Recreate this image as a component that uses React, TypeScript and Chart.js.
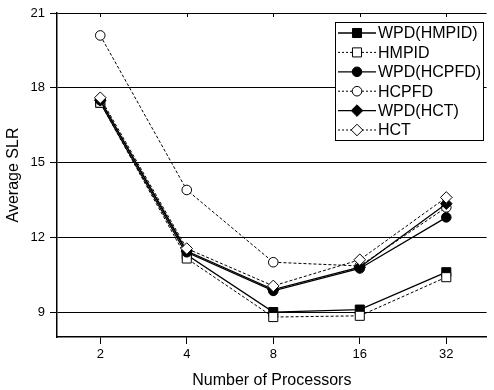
import React, { useEffect, useRef } from "react";
import { Chart, registerables } from "chart.js";

Chart.register(...registerables);

const procLabels = ["2", "4", "8", "16", "32"];
const procPos = [1, 2, 3, 4, 5];
const yTicks = [9, 12, 15, 18, 21];

const wpdHmpid = [17.4, 11.3, 9.0, 9.1, 10.6];
const hmpid = [17.4, 11.15, 8.8, 8.85, 10.4];
const wpdHcpfd = [17.5, 11.4, 9.85, 10.75, 12.8];
const hcpfd = [20.1, 13.9, 11.0, 10.85, 13.2];
const wpdHct = [17.5, 11.45, 9.9, 10.8, 13.35];
const hct = [17.6, 11.55, 10.05, 11.1, 13.6];

const seriesNames = ["WPD(HMPID)", "HMPID", "WPD(HCPFD)", "HCPFD", "WPD(HCT)", "HCT"];
const seriesValues = [wpdHmpid, hmpid, wpdHcpfd, hcpfd, wpdHct, hct];
const seriesFilled = [true, false, true, false, true, false];
const seriesShape = ["rect", "rect", "circle", "circle", "rectRot", "rectRot"];
const shapeRadius: Record<string, number> = { rect: 6.4, circle: 4.8, rectRot: 5.8 };

function drawMarker(ctx: CanvasRenderingContext2D, shape: string, x: number, y: number, filled: boolean) {
  const r = shapeRadius[shape];
  ctx.save();
  ctx.setLineDash([]);
  ctx.lineWidth = 1;
  ctx.strokeStyle = "#000";
  ctx.fillStyle = filled ? "#000" : "#fff";
  ctx.beginPath();
  if (shape === "rect") {
    const s = Math.SQRT1_2 * r;
    ctx.rect(x - s, y - s, 2 * s, 2 * s);
  } else if (shape === "circle") {
    ctx.arc(x, y, r, 0, Math.PI * 2);
  } else {
    ctx.moveTo(x - r, y);
    ctx.lineTo(x, y - r);
    ctx.lineTo(x + r, y);
    ctx.lineTo(x, y + r);
    ctx.closePath();
  }
  ctx.fill();
  ctx.stroke();
  ctx.restore();
}

const extrasPlugin = {
  id: "extras",
  afterDraw(chart: any) {
    const ctx: CanvasRenderingContext2D = chart.ctx;
    const xs = chart.scales.x;
    const top = chart.chartArea.top;
    ctx.save();
    ctx.strokeStyle = "#000";
    ctx.lineWidth = 1;
    procPos.forEach((p) => {
      const px = Math.round(xs.getPixelForValue(p)) + 0.5;
      ctx.beginPath();
      ctx.moveTo(px, top);
      ctx.lineTo(px, top + 4);
      ctx.stroke();
    });
    // legend
    const bx = 335.5, by = 22.5, bw = 148, bh = 118;
    ctx.fillStyle = "#fff";
    ctx.fillRect(bx, by, bw, bh);
    ctx.strokeRect(bx, by, bw, bh);
    ctx.font = "16px Arial, 'Liberation Sans', sans-serif";
    ctx.textBaseline = "middle";
    ctx.textAlign = "left";
    seriesNames.forEach((name, i) => {
      const y = 33 + i * 19.4;
      ctx.save();
      ctx.strokeStyle = "#000";
      ctx.lineWidth = seriesFilled[i] ? 1.3 : 1;
      ctx.setLineDash(seriesFilled[i] ? [] : [2, 2]);
      ctx.beginPath();
      ctx.moveTo(338, y);
      ctx.lineTo(376, y);
      ctx.stroke();
      ctx.restore();
      drawMarker(ctx, seriesShape[i], 357, y, seriesFilled[i]);
      ctx.fillStyle = "#000";
      ctx.fillText(name, 378, y + 1);
    });
    ctx.restore();
  },
};

export default function App() {
  const ref = useRef<HTMLCanvasElement>(null);
  useEffect(() => {
    if (!ref.current) return;
    const datasets = seriesNames.map((name, i) => ({
      label: name,
      order: seriesNames.length - i,
      data: seriesValues[i].map((v, j) => ({ x: procPos[j], y: v })),
      borderColor: "#000",
      borderWidth: seriesFilled[i] ? 1.3 : 1,
      borderDash: seriesFilled[i] ? [] : [3, 2],
      pointStyle: seriesShape[i],
      pointRadius: shapeRadius[seriesShape[i]],
      pointBackgroundColor: seriesFilled[i] ? "#000" : "#fff",
      pointBorderColor: "#000",
      pointBorderWidth: 1,
      fill: false,
      tension: 0,
    }));
    const chart = new Chart(ref.current, {
      type: "line",
      data: { datasets },
      plugins: [extrasPlugin],
      options: {
        animation: false,
        responsive: false,
        devicePixelRatio: 1,
        layout: { padding: { top: 13, right: 0, left: 0, bottom: 0 } },
        plugins: { legend: { display: false }, tooltip: { enabled: false } },
        scales: {
          x: {
            type: "linear",
            min: 0.5,
            max: 5.466,
            afterBuildTicks: (s: any) => {
              s.ticks = procPos.map((v) => ({ value: v }));
            },
            afterFit: (s: any) => {
              s.height = 53;
            },
            ticks: {
              color: "#000",
              font: { size: 13, family: "Arial, 'Liberation Sans', sans-serif" },
              padding: 3,
              maxRotation: 0,
              autoSkip: false,
              callback: (v: any) => procLabels[procPos.indexOf(Number(v))] ?? "",
            },
            grid: { drawOnChartArea: false, drawTicks: true, tickLength: 7, color: "#000", lineWidth: 1 },
            border: { display: true, color: "#000", width: 1.5 },
            title: {
              display: true,
              text: "Number of Processors",
              color: "#000",
              font: { size: 16, family: "Arial, 'Liberation Sans', sans-serif" },
              padding: { top: 0, bottom: 0 },
            },
          },
          y: {
            type: "linear",
            min: 8,
            max: 21,
            afterBuildTicks: (s: any) => {
              s.ticks = yTicks.map((v) => ({ value: v }));
            },
            afterFit: (s: any) => {
              s.width = 57;
            },
            ticks: {
              color: "#000",
              font: { size: 13, family: "Arial, 'Liberation Sans', sans-serif" },
              padding: 5,
            },
            grid: { color: "#000", lineWidth: 1, drawTicks: true, tickLength: 7 },
            border: { display: true, color: "#000", width: 1.5 },
            title: {
              display: true,
              text: "Average SLR",
              color: "#000",
              font: { size: 16, family: "Arial, 'Liberation Sans', sans-serif" },
              padding: { top: 4, bottom: 0 },
            },
          },
        },
      } as any,
    });
    return () => chart.destroy();
  }, []);
  return (
    <div style={{ position: "absolute", left: 0, top: 0, width: 494, height: 390, background: "#fff" }}>
      <canvas ref={ref} width={494} height={390} style={{ display: "block", width: 494, height: 390 }} />
    </div>
  );
}
